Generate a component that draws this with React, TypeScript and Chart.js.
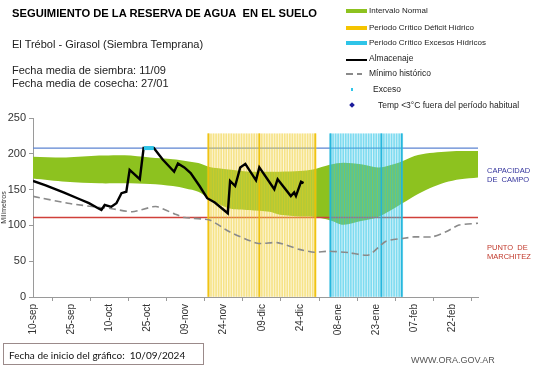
import React, { useEffect, useRef } from "react";
import { Chart, registerables } from "chart.js";

Chart.register(...registerables);

// ---- data (days since 10-sep-2024) ----
const tickDays = [0, 15, 30, 45, 60, 75, 90, 105, 120, 135, 150, 165];
const tickLabels = ["10-sep", "25-sep", "10-oct", "25-oct", "09-nov", "24-nov", "09-dic", "24-dic", "08-ene", "23-ene", "07-feb", "22-feb"];

const bandDays = [0, 13, 26, 36, 46, 55, 60, 65, 69, 77, 85, 93, 97, 105, 110, 117, 122, 129, 136, 144, 150, 156, 162, 168, 175];
const bandUpper = [196, 195, 197.5, 198, 195, 192.5, 190, 187, 182, 178, 175, 175, 175, 176, 178, 185, 187.5, 185.5, 181, 188, 197, 201, 203, 204, 204];
const bandLower = [165.5, 161, 158.7, 158.7, 157.8, 155, 151.5, 147, 138, 124, 121.5, 119, 115, 112.5, 112, 107, 101, 106, 112, 128, 141, 152, 160, 164.5, 167];

const storageDays = [0, 5, 12, 18.4, 22, 25.6, 26.9, 28.2, 30.8, 32.8, 34.8, 36.7, 38, 42, 43.5, 47.5, 51, 55.5, 57, 59.5, 62, 65.5, 68.5, 71.5, 76.6, 77.5, 79.5, 81.5, 83.5, 87.7, 89, 94.9, 96.2, 101.4, 102.7, 103.4, 105.4, 106.4];
const storageValues = [162, 156, 146, 136.5, 131, 124, 121.5, 128.5, 126, 131, 145, 147, 177.5, 164.5, 208, 208, 192, 175, 186.5, 181, 173, 155, 138, 132, 117, 162, 155, 181, 186, 163, 181, 150.5, 164.5, 141, 146, 141, 161, 159];

const minDays = [0, 14.5, 26.3, 30, 39, 47, 49, 55.7, 59.6, 69.4, 77.3, 88.2, 96, 104.7, 110.6, 116.5, 124, 132, 138.8, 145.9, 150, 157, 162.4, 167.5, 175];
const minValues = [140.5, 130.5, 125, 124, 119, 126, 126, 116, 111, 107.5, 91, 75, 76, 66.5, 62.5, 64, 62, 58.7, 78, 82, 84, 84, 91, 100.5, 103];

const excessDays = [43.6, 44.5, 45.5, 46.5, 47.5];
const excessValues = [208, 208, 208, 208, 208];

const fieldCapacity = 208;
const wiltingPoint = 111;

const deficitPeriodDays = [69, 70, 71, 72, 73, 74, 75, 76, 77, 78, 79, 80, 81, 82, 83, 84, 85, 86, 87, 88, 89, 90, 91, 92, 93, 94, 95, 96, 97, 98, 99, 100, 101, 102, 103, 104, 105, 106, 107, 108, 109, 110, 111];
const deficitMarkDays = [69, 89, 111];
const excessPeriodDays = [117, 118, 119, 120, 121, 122, 123, 124, 125, 126, 127, 128, 129, 130, 131, 132, 133, 134, 135, 136, 137, 138, 139, 140, 141, 142, 143, 144, 145];
const excessMarkDays = [117, 137, 145];
const stripeTop = 228;

const xMin = 0;
const xMax = 175;

const zip = (xs: number[], ys: number[]) => xs.map((x, i) => ({ x, y: ys[i] }));
const flat = (xs: number[], v: number) => xs.map((x) => ({ x, y: v }));

const FONT = "'Liberation Sans', Arial, sans-serif";

export default function App() {
  const ref = useRef<HTMLCanvasElement>(null);

  useEffect(() => {
    const canvas = ref.current!;
    const chart = new Chart(canvas, {
      type: "line",
      data: {
        datasets: [
          {
            type: "line",
            label: "Exceso",
            data: zip(excessDays, excessValues),
            borderColor: "#2fc6ea",
            borderWidth: 4,
            pointRadius: 0,
            order: -1,
          },
          {
            type: "line",
            label: "Almacenaje",
            data: zip(storageDays, storageValues),
            borderColor: "#000",
            borderWidth: 2.4,
            pointRadius: 0,
            tension: 0,
            order: 0,
          },
          {
            type: "line",
            label: "Mínimo histórico",
            data: zip(minDays, minValues),
            borderColor: "#8a8a8a",
            borderWidth: 1.6,
            borderDash: [7, 4],
            pointRadius: 0,
            tension: 0.2,
            order: 1,
          },
          {
            type: "bar",
            label: "Déficit marks",
            data: flat(deficitMarkDays, stripeTop),
            backgroundColor: "rgba(240,190,0,0.85)",
            barThickness: 1.2,
            grouped: false,
            order: 2,
          },
          {
            type: "bar",
            label: "Periodo Crítico Déficit Hídrico",
            data: flat(deficitPeriodDays, stripeTop),
            backgroundColor: "rgba(240,205,40,0.5)",
            barThickness: 1,
            grouped: false,
            order: 3,
          },
          {
            type: "bar",
            label: "Déficit tint",
            data: flat(deficitPeriodDays, stripeTop),
            backgroundColor: "rgba(250,230,140,0.18)",
            barPercentage: 1,
            categoryPercentage: 1,
            grouped: false,
            order: 4,
          },
          {
            type: "bar",
            label: "Excesos marks",
            data: flat(excessMarkDays, stripeTop),
            backgroundColor: "rgba(30,180,220,0.9)",
            barThickness: 1.2,
            grouped: false,
            order: 2,
          },
          {
            type: "bar",
            label: "Periodo Crítico Excesos Hídricos",
            data: flat(excessPeriodDays, stripeTop),
            backgroundColor: "rgba(40,195,230,0.55)",
            barThickness: 1,
            grouped: false,
            order: 3,
          },
          {
            type: "bar",
            label: "Excesos tint",
            data: flat(excessPeriodDays, stripeTop),
            backgroundColor: "rgba(120,215,240,0.18)",
            barPercentage: 1,
            categoryPercentage: 1,
            grouped: false,
            order: 4,
          },
          {
            type: "line",
            label: "Capacidad de campo",
            data: flat([xMin, xMax], fieldCapacity),
            borderColor: "#5c84d2",
            borderWidth: 1.2,
            pointRadius: 0,
            fill: false,
            order: 5,
          },
          {
            type: "line",
            label: "Punto de marchitez",
            data: flat([xMin, xMax], wiltingPoint),
            borderColor: "#d0403a",
            backgroundColor: "#d0403a",
            borderWidth: 1.5,
            pointRadius: 0,
            fill: false,
            order: 5,
          },
          {
            type: "line",
            label: "Intervalo Normal",
            data: zip(bandDays, bandUpper),
            borderWidth: 0,
            borderColor: "rgba(0,0,0,0)",
            backgroundColor: "#8dc21f",
            fill: "+1",
            pointRadius: 0,
            tension: 0.3,
            order: 6,
          },
          {
            type: "line",
            label: "Intervalo Normal inferior",
            data: zip(bandDays, bandLower),
            borderWidth: 0,
            borderColor: "rgba(0,0,0,0)",
            backgroundColor: "rgba(0,0,0,0)",
            fill: false,
            pointRadius: 0,
            tension: 0.3,
            order: 7,
          },
        ] as any,
      },
      options: {
        animation: false,
        responsive: false,
        maintainAspectRatio: false,
        events: [],
        layout: { padding: { top: 118, right: 63, left: 0, bottom: 0 } },
        plugins: {
          legend: { display: false },
          tooltip: { enabled: false },
        },
        scales: {
          x: {
            type: "linear",
            min: xMin,
            max: xMax,
            offset: false,
            afterFit: (s: any) => {
              s.height = 71;
            },
            afterBuildTicks: (s: any) => {
              s.ticks = tickDays.map((v) => ({ value: v }));
            },
            grid: { drawOnChartArea: false, drawTicks: true, tickLength: 4, color: "#9a9a9a" },
            border: { color: "#9a9a9a", width: 1 },
            ticks: {
              autoSkip: false,
              maxRotation: 90,
              minRotation: 90,
              padding: 3,
              color: "#333",
              font: { family: FONT, size: 10 },
              callback: (_v: any, i: number) => tickLabels[i],
            },
          },
          y: {
            min: 0,
            max: 250,
            afterFit: (s: any) => {
              s.width = 33;
            },
            grid: { drawOnChartArea: false, drawTicks: true, tickLength: 4, color: "#9a9a9a" },
            border: { color: "#9a9a9a", width: 1 },
            ticks: {
              stepSize: 50,
              padding: 3,
              color: "#333",
              font: { family: FONT, size: 11 },
            },
            title: {
              display: true,
              text: "Milímetros",
              color: "#333",
              font: { family: FONT, size: 7 },
              padding: { top: 0, bottom: 0 },
            },
          },
        },
      } as any,
    });
    return () => chart.destroy();
  }, []);

  const txt = (extra: React.CSSProperties): React.CSSProperties => ({
    position: "absolute",
    whiteSpace: "nowrap",
    fontFamily: FONT,
    color: "#111",
    lineHeight: 1,
    ...extra,
  });

  const legendText = (top: number, left: number, size: number) =>
    txt({ top, left, fontSize: size, color: "#222" });

  return (
    <div style={{ position: "absolute", left: 0, top: 0, width: 541, height: 368, background: "#fff", overflow: "hidden" }}>
      <canvas ref={ref} width={541} height={368} style={{ position: "absolute", left: 0, top: 0, width: 541, height: 368 }} />

      <div style={txt({ top: 8, left: 12, fontSize: 11.2, fontWeight: "bold", color: "#000" })}>
        SEGUIMIENTO DE LA RESERVA DE AGUA&nbsp; EN EL SUELO
      </div>
      <div style={txt({ top: 39, left: 12, fontSize: 11, color: "#222" })}>El Trébol - Girasol (Siembra Temprana)</div>
      <div style={txt({ top: 65, left: 12, fontSize: 11, color: "#222" })}>Fecha media de siembra: 11/09</div>
      <div style={txt({ top: 78, left: 12, fontSize: 11, color: "#222" })}>Fecha media de cosecha: 27/01</div>

      {/* legend */}
      <div style={{ position: "absolute", left: 346, top: 9, width: 21, height: 4, background: "#8dc21f" }} />
      <div style={legendText(7, 369, 8)}>Intervalo Normal</div>
      <div style={{ position: "absolute", left: 346, top: 25.5, width: 21, height: 4, background: "#f5c400" }} />
      <div style={legendText(23.5, 369, 8)}>Periodo Crítico Déficit Hídrico</div>
      <div style={{ position: "absolute", left: 346, top: 41, width: 21, height: 4, background: "#2ec4e8" }} />
      <div style={legendText(39, 369, 8)}>Periodo Crítico Excesos Hídricos</div>
      <div style={{ position: "absolute", left: 346, top: 58.5, width: 21, height: 2, background: "#000" }} />
      <div style={legendText(54, 369, 8.5)}>Almacenaje</div>
      <div style={{ position: "absolute", left: 346, top: 73, width: 7, height: 1.5, background: "#8a8a8a" }} />
      <div style={{ position: "absolute", left: 357, top: 73, width: 5, height: 1.5, background: "#8a8a8a" }} />
      <div style={legendText(69, 369, 8.5)}>Mínimo histórico</div>
      <div style={{ position: "absolute", left: 350.5, top: 88, width: 2.5, height: 2.5, background: "#2fc6ea" }} />
      <div style={legendText(85, 373, 8.5)}>Exceso</div>
      <div style={{ position: "absolute", left: 349.5, top: 102.5, width: 4, height: 4, background: "#1b1b9c", transform: "rotate(45deg)" }} />
      <div style={legendText(100.5, 378, 8.5)}>Temp &lt;3°C fuera del período habitual</div>

      {/* right side annotations */}
      <div style={txt({ top: 166, left: 487, fontSize: 7.5, color: "#33339c", lineHeight: "9px" })}>
        CAPACIDAD
        <br />
        DE&nbsp; CAMPO
      </div>
      <div style={txt({ top: 243, left: 487, fontSize: 7.5, color: "#c0392b", lineHeight: "9px" })}>
        PUNTO&nbsp; DE
        <br />
        MARCHITEZ
      </div>

      {/* bottom */}
      <div
        style={{
          position: "absolute",
          left: 3,
          top: 343,
          width: 201,
          height: 22,
          border: "1px solid #9b8a8a",
          boxSizing: "border-box",
        }}
      />
      <div style={txt({ top: 349.5, left: 9, fontSize: 10, color: "#111", fontFamily: "Lato, 'Liberation Sans', sans-serif" })}>
        Fecha de inicio del gráfico:&nbsp; 10/09/2024
      </div>
      <div style={txt({ top: 356, left: 411, fontSize: 9, color: "#555" })}>WWW.ORA.GOV.AR</div>
    </div>
  );
}
